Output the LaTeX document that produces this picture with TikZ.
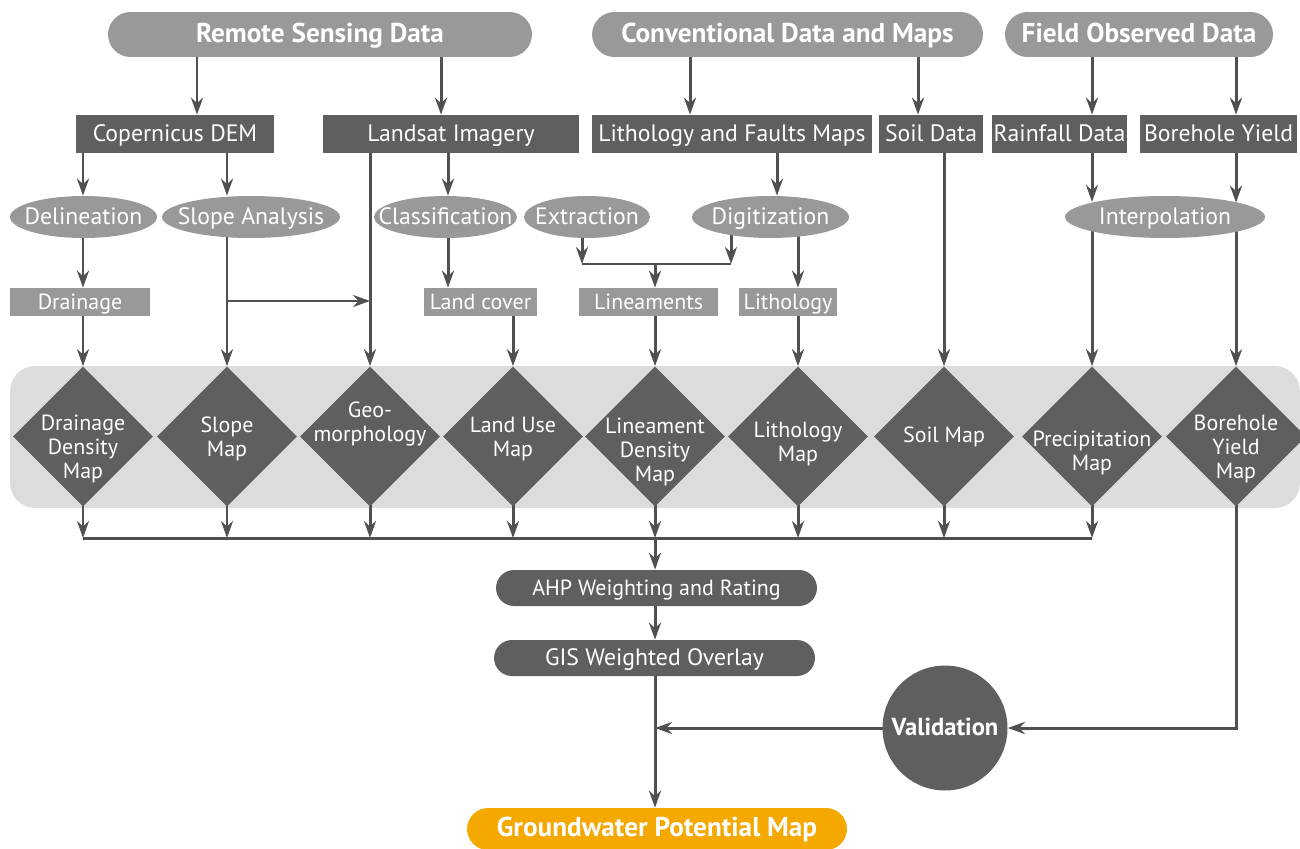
\documentclass[tikz,border=0pt]{standalone}
\usepackage{fontspec}
\setmainfont{PT Sans}
\usetikzlibrary{shapes.geometric,arrows.meta}
\definecolor{dk}{RGB}{95,95,95}
\definecolor{md}{RGB}{153,153,153}
\definecolor{bd}{RGB}{220,220,220}
\definecolor{ln}{RGB}{80,80,80}
\definecolor{og}{RGB}{245,168,0}
\pgfdeclarelayer{bg}\pgfdeclarelayer{lines}\pgfsetlayers{bg,lines,main}
\newcommand\myreg{\fontsize{13.5}{13.66}\selectfont}
\newcommand\mysmall{\fontsize{12.5}{13.66}\selectfont}
\newcommand\mybold{\bfseries\fontsize{15.5}{17}\selectfont}
\begin{document}
\begin{tikzpicture}[x=0.02cm,y=-0.02cm,
  ctext/.style={text height=0.86em, text depth=0em},
  pill/.style={fill=md, rounded corners=0.45cm, minimum height=0.9cm, inner sep=0pt, text=white, font=\mybold, ctext},
  dbox/.style={fill=dk, minimum height=0.76cm, inner sep=0pt, text=white, font=\myreg, ctext},
  ell/.style={ellipse, fill=md, minimum height=0.84cm, inner sep=0pt},
  etext/.style={text=white, font=\myreg, inner sep=0pt, ctext},
  lbox/.style={fill=md, minimum height=0.56cm, inner sep=0pt, text=white, font=\mysmall, ctext},
  dia/.style={diamond, fill=dk, minimum width=2.8cm, minimum height=2.8cm, inner sep=0pt},
  dtext/.style={text=white, align=center, font=\mysmall, inner sep=0pt},
  dpill/.style={fill=dk, rounded corners=0.36cm, minimum height=0.72cm, minimum width=6.42cm, inner sep=0pt, text=white, font=\myreg, ctext},
  line/.style={draw=ln, line width=1.7pt},
  arr/.style={line, -{Stealth[length=0.34cm,width=0.24cm,inset=0.11cm]}}
]
\useasboundingbox (0,0) rectangle (1300,848);
\clip (0,0) rectangle (1300,848);

% top source pills
\node[pill, minimum width=8.48cm] (rs) at (320,34.5) {Remote Sensing Data};
\node[pill, minimum width=7.82cm] (cd) at (787.5,34.5) {Conventional Data and Maps};
\node[pill, minimum width=5.36cm] (fo) at (1139,34.5) {Field Observed Data};

% data boxes
\node[dbox, minimum width=3.96cm] (cop) at (175,134) {Copernicus DEM};
\node[dbox, minimum width=5.12cm] (land) at (451,134) {Landsat Imagery};
\node[dbox, minimum width=5.6cm] (lith) at (732,134) {Lithology and Faults Maps};
\node[dbox, minimum width=2.08cm] (soil) at (931,134) {Soil Data};
\node[dbox, minimum width=2.7cm] (rain) at (1059.5,134) {Rainfall Data};
\node[dbox, minimum width=3.14cm] (bore) at (1218.5,134) {Borehole Yield};

% processes
\node[ell, minimum width=2.94cm] (del) at (83.5,217) {};
\node[ell, minimum width=3.56cm] (slo) at (251,217) {};
\node[ell, minimum width=2.86cm] (cla) at (445.5,217) {};
\node[ell, minimum width=2.52cm] (ext) at (587,217) {};
\node[ell, minimum width=3.14cm] (dig) at (770.5,217) {};
\node[ell, minimum width=4.0cm] (int) at (1165,217) {};
\node[etext] (delT) at (del) {Delineation};
\node[etext] (sloT) at (slo) {Slope Analysis};
\node[etext] (claT) at (cla) {Classification};
\node[etext] (extT) at (ext) {Extraction};
\node[etext] (digT) at (dig) {Digitization};
\node[etext] (intT) at (int) {Interpolation};

% intermediate products
\node[lbox, minimum width=2.8cm] (drn) at (80,302) {Drainage};
\node[lbox, minimum width=2.26cm] (lc) at (480.5,302) {Land cover};
\node[lbox, minimum width=2.78cm] (lin) at (648.5,302) {Lineaments};
\node[lbox, minimum width=1.96cm] (lit) at (788,302) {Lithology};

% band
\begin{pgfonlayer}{bg}
\node[fill=bd, rounded corners=0.5cm, minimum width=25.8cm, minimum height=2.84cm, inner sep=0pt] (band) at (655,437) {};
\end{pgfonlayer}

% thematic maps
\node[dia] (d1) at (83,436.5) {};
\node[dia] (d2) at (227,436.5) {};
\node[dia] (d3) at (370,436.5) {};
\node[dia] (d4) at (513,436.5) {};
\node[dia] (d5) at (655,436.5) {};
\node[dia] (d6) at (798,436.5) {};
\node[dia] (d7) at (944,436.5) {};
\node[dia] (d8) at (1092,436.5) {};
\node[dia] (d9) at (1236,436.5) {};
\node[dtext] (t1) at (83,449) {Drainage\\Density\\Map};
\node[dtext] (t2) at (227,439) {Slope\\Map};
\node[dtext] (t3) at (370,424) {Geo-\\morphology};
\node[dtext] (t4) at (513,439) {Land Use\\Map};
\node[dtext] (t5) at (655,452) {Lineament\\Density\\Map};
\node[dtext] (t6) at (798,444) {Lithology\\Map};
\node[dtext] (t7) at (944,437) {Soil Map};
\node[dtext] (t8) at (1092,453) {Precipitation\\Map};
\node[dtext] (t9) at (1236,449) {Borehole\\Yield\\Map};

% analysis
\node[dpill, font=\mysmall] (ahp) at (656.5,588) {AHP Weighting and Rating};
\node[dpill] (gis) at (654.5,658) {GIS Weighted Overlay};
\node[circle, fill=dk, minimum size=2.5cm, inner sep=0pt, text=white, font=\bfseries\fontsize{14}{16}\selectfont, ctext] (val) at (945,728) {Validation};
\node[fill=og, rounded corners=0.42cm, minimum width=7.6cm, minimum height=0.84cm, inner sep=0pt, text=white, font=\mybold, ctext] (gw) at (657,829) {Groundwater Potential Map};

% helper columns / rows
\coordinate (cA) at (197,0);
\coordinate (cB) at (441,0);
\coordinate (cC) at (690,0);
\coordinate (cD) at (918,0);
\coordinate (cE) at (1092,0);
\coordinate (cF) at (1236,0);
\coordinate (kc) at (448,0);
\coordinate (kl) at (777,0);
\coordinate (kx) at (582,264);
\coordinate (kd) at (731,264);
\coordinate (sb) at (227,301);
\coordinate (busL) at (83,538);
\coordinate (busR) at (1092,538);

\begin{pgfonlayer}{lines}
\draw[arr] (rs.center -| cA) -- (cop.north -| cA);
\draw[arr] (rs.center -| cB) -- (land.north -| cB);
\draw[arr] (cd.center -| cC) -- (lith.north -| cC);
\draw[arr] (cd.center -| cD) -- (soil.north -| cD);
\draw[arr] (fo.center -| cE) -- (rain.north -| cE);
\draw[arr] (fo.center -| cF) -- (bore.north -| cF);

\draw[arr] (cop.center -| d1.north) -- (del.north -| d1.north);
\draw[arr] (cop.center -| d2.north) -- (slo.north -| d2.north);
\draw[arr] (land.center -| kc) -- (cla.north -| kc);
\draw[arr] (lith.center -| kl) -- (dig.north -| kl);
\draw[arr] (rain.center -| cE) -- (int.168.8 -| cE);
\draw[arr] (bore.center -| cF) -- (int.11.2 -| cF);

\draw[arr] (del.center -| d1.north) -- (drn.north -| d1.north);
\draw[arr] (cla.center -| kc) -- (lc.north -| kc);
\draw[arr] (ext.center -| kx) -- (kx);
\draw[line] (kx) -- (kd);
\draw[arr] (dig.center -| kd) -- (kd);
\draw[arr] (kx -| d5.north) -- (lin.north -| d5.north);
\draw[arr] (dig.center -| d6.north) -- (lit.north -| d6.north);

\draw[arr] (drn.center -| d1.north) -- (d1.north);
\draw[arr] (slo.center -| d2.north) -- (d2.north);
\draw[arr] (sb) -- (sb -| d3.north);
\draw[arr] (land.center -| d3.north) -- (d3.north);
\draw[arr] (lc.center -| d4.north) -- (d4.north);
\draw[arr] (lin.center -| d5.north) -- (d5.north);
\draw[arr] (lit.center -| d6.north) -- (d6.north);
\draw[arr] (soil.center -| d7.north) -- (d7.north);
\draw[arr] (int.center -| d8.north) -- (d8.north);
\draw[arr] (int.center -| d9.north) -- (d9.north);

\foreach \d in {d1,d2,d3,d4,d5,d6,d7,d8}{
  \draw[arr] (\d.center) -- (\d.south |- busL);
}
\draw[line] (busL) -- (busR);
\draw[arr] (busL -| d5.south) -- (ahp.north -| d5.south);
\draw[arr] (ahp.center -| d5.south) -- (gis.north -| d5.south);
\draw[arr] (gis.center -| d5.south) -- (gw.north -| d5.south);
\draw[arr] (d9.center) -- (d9.south |- val.east) -- (val.east);
\draw[arr] (val.center) -- (val.west -| d5.south);
\end{pgfonlayer}
\end{tikzpicture}
\end{document}
